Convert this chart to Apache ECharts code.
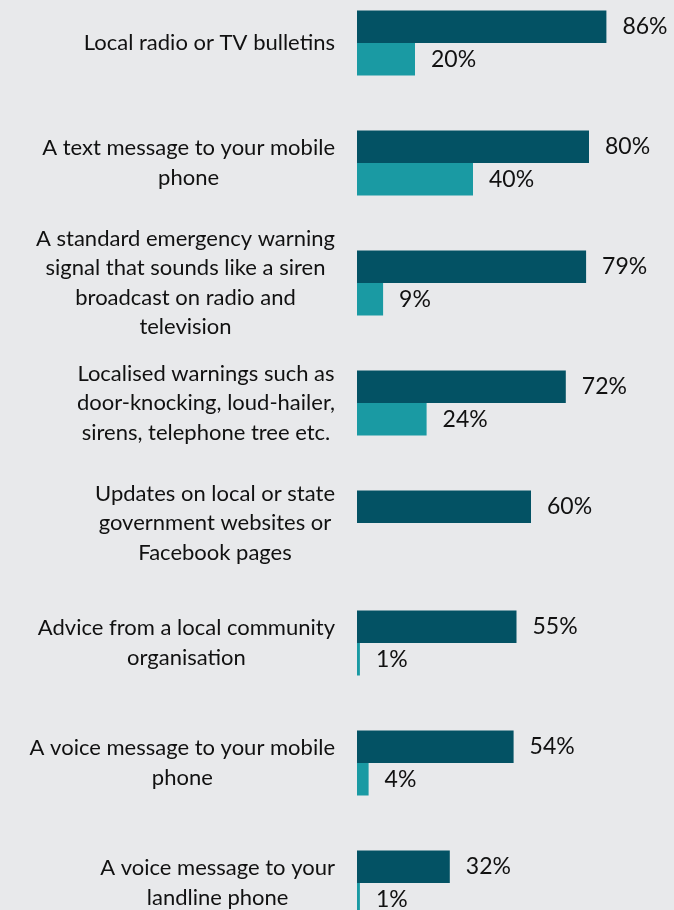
<!DOCTYPE html>
<html>
<head>
<meta charset="utf-8">
<script src="https://cdn.jsdelivr.net/npm/echarts@6/dist/echarts.min.js"></script>
<style>
  html, body { margin: 0; padding: 0; background: #e8e9eb; }
  #chart { width: 674px; height: 910px; }
</style>
</head>
<body>
<div id="chart"></div>
<script>
// Warning channels, top to bottom
const categories = [
  'Local radio or TV bulletins',
  'A text message to your mobile\nphone',
  'A standard emergency warning\nsignal that sounds like a siren\nbroadcast on radio and\ntelevision',
  'Localised warnings such as\ndoor-knocking, loud-hailer,\nsirens, telephone tree etc.',
  'Updates on local or state\ngovernment websites or\nFacebook pages',
  'Advice from a local community\norganisation',
  'A voice message to your mobile\nphone',
  'A voice message to your\nlandline phone'
];

// Percentages (dark bars / light bars); null = no bar
const seriesA = [86, 80, 79, 72, 60, 55, 54, 32];
const seriesB = [20, 40, 9, 24, null, 1, 4, 1];

const valueLabel = {
  show: true,
  position: 'right',
  distance: 16,
  formatter: p => p.value + '%',
  fontFamily: 'Lato',
  fontSize: 23,
  color: '#111111'
};

const chart = echarts.init(document.getElementById('chart'));
chart.setOption({
  backgroundColor: '#e8e9eb',
  animation: false,
  grid: {
    left: 357, width: 290, top: -17, height: 960,
    containLabel: false, outerBoundsMode: 'none'
  },
  xAxis: {
    type: 'value', min: 0, max: 100, show: false
  },
  yAxis: {
    type: 'category',
    data: categories,
    inverse: true,
    axisLine: { show: false },
    axisTick: { show: false },
    axisLabel: {
      margin: 22,
      align: 'right',
      fontFamily: 'Lato',
      fontSize: 22,
      lineHeight: 29.5,
      color: '#111111',
      // each line centred within the right-anchored block
      formatter: v => v.split('\n').map(l => '{c|' + l + '}').join('\n'),
      rich: {
        c: {
          align: 'center',
          fontFamily: 'Lato',
          fontSize: 22,
          lineHeight: 29.5,
          color: '#111111'
        }
      }
    }
  },
  series: [
    {
      type: 'bar', data: seriesA, barWidth: 32.5, barGap: '0%',
      itemStyle: { color: '#035264' }, label: valueLabel
    },
    {
      type: 'bar', data: seriesB, barWidth: 32.5, barGap: '0%',
      itemStyle: { color: '#1a9aa3' }, label: valueLabel
    }
  ]
});
</script>
</body>
</html>
